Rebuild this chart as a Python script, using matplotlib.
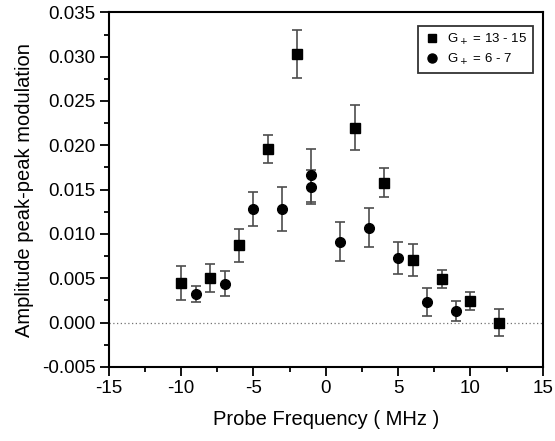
import numpy as np
import matplotlib.pyplot as plt
from matplotlib.ticker import MultipleLocator
from matplotlib.lines import Line2D

plt.rcParams['font.family'] = ['Liberation Sans', 'DejaVu Sans']
plt.rcParams['axes.unicode_minus'] = False

# G+ = 13 - 15 (squares)
sq_freq = [-10, -8, -6, -4, -2, 2, 4, 6, 8, 10, 12]
sq_amp = [0.0045, 0.0050, 0.0087, 0.0196, 0.0303, 0.0220, 0.0158, 0.0071, 0.0049, 0.0024, 0.0000]
sq_err = [0.0019, 0.0016, 0.0019, 0.0016, 0.0027, 0.0025, 0.0016, 0.0018, 0.0010, 0.0010, 0.0015]

# G+ = 6 - 7 (circles)
ci_freq = [-9, -7, -5, -3, -1, -1, 1, 3, 5, 7, 9]
ci_amp = [0.0032, 0.0044, 0.0128, 0.0128, 0.0166, 0.0153, 0.0091, 0.0107, 0.0073, 0.0023, 0.0013]
ci_err = [0.0009, 0.0014, 0.0019, 0.0025, 0.0030, 0.0019, 0.0022, 0.0022, 0.0018, 0.0016, 0.0011]

fig = plt.figure(figsize=(5.55, 4.41), dpi=100)
ax = fig.add_axes([0.196, 0.168, 0.782, 0.804])

ax.axhline(0, color='0.45', lw=0.9, ls=(0, (1, 2)), zorder=1)

ax.errorbar(sq_freq, sq_amp, yerr=sq_err, fmt='s', color='black', ms=6.5,
            ecolor='0.3', elinewidth=1.2, capsize=3.5, capthick=1.2, zorder=3)
ax.errorbar(ci_freq, ci_amp, yerr=ci_err, fmt='o', color='black', ms=7,
            ecolor='0.3', elinewidth=1.2, capsize=3.5, capthick=1.2, zorder=3)

ax.set_xlim(-15, 15)
ax.set_ylim(-0.005, 0.035)
ax.xaxis.set_major_locator(MultipleLocator(5))
ax.xaxis.set_minor_locator(MultipleLocator(2.5))
ax.yaxis.set_major_locator(MultipleLocator(0.005))
ax.yaxis.set_minor_locator(MultipleLocator(0.0025))
ax.yaxis.set_major_formatter(plt.FormatStrFormatter('%.3f'))

ax.tick_params(which='both', direction='out', labelsize=13.5, width=1.3, pad=3)
ax.tick_params(which='major', length=6.5)
ax.tick_params(which='minor', length=3.5)
for s in ax.spines.values():
    s.set_linewidth(1.5)

ax.set_xlabel('Probe Frequency ( MHz )', fontsize=14.5, labelpad=9)
ax.set_ylabel('Amplitude peak-peak modulation', fontsize=14.5, labelpad=6)

handles = [Line2D([], [], ls='none', marker='s', color='black', ms=6),
           Line2D([], [], ls='none', marker='o', color='black', ms=6.5)]
labels = [r'G$_+$ = 13 - 15', r'G$_+$ = 6 - 7']
leg = ax.legend(handles, labels, loc='upper right', bbox_to_anchor=(0.978, 0.962),
                fontsize=9.5, frameon=True, fancybox=False, edgecolor='black',
                handletextpad=0.5, borderpad=0.45, labelspacing=0.35,
                handlelength=1.3, borderaxespad=0)
leg.get_frame().set_linewidth(1.3)

fig.savefig('out.png', dpi=100)
